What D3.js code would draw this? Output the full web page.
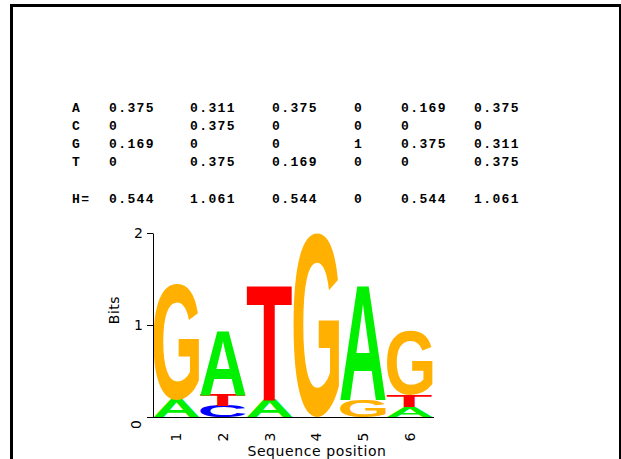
<!DOCTYPE html>
<html>
<head>
<meta charset="utf-8">
<script src="https://cdn.jsdelivr.net/npm/d3@7"></script>
<style>
  body { margin: 0; background: #fff; }
  svg { display: block; }
</style>
</head>
<body>
<svg id="chart" width="621" height="459"></svg>
<script>
// table values, one array per base
const bases = ["A", "C", "G", "T"];
const probA = [0.375, 0.311, 0.375, 0, 0.169, 0.375];
const probC = [0, 0.375, 0, 0, 0, 0];
const probG = [0.169, 0, 0, 1, 0.375, 0.311];
const probT = [0, 0.375, 0.169, 0, 0, 0.375];
const entropy = [0.544, 1.061, 0.544, 0, 0.544, 1.061];

// logo stacks, bottom to top: [letter, bits]
const positions = [1, 2, 3, 4, 5, 6];
const stacks = [
  [["A", 0.19], ["G", 1.26]],
  [["C", 0.12], ["T", 0.12], ["A", 0.71]],
  [["A", 0.19], ["T", 1.26]],
  [["G", 2.0]],
  [["G", 0.19], ["A", 1.26]],
  [["A", 0.11], ["T", 0.13], ["G", 0.70]]
];
const yTicks = [0, 1, 2];

const colors = { A: "#00f000", C: "#0000ff", G: "#ffb000", T: "#ff0000" };

const svg = d3.select("#chart");

// frame
svg.append("rect")
  .attr("x", 11.5).attr("y", 5.5)
  .attr("width", 609).attr("height", 520)
  .attr("fill", "none")
  .attr("stroke", "#000")
  .attr("stroke-width", 3);

// text table
const colX = [72, 109, 190, 272, 354, 401, 474];
const rows = [probA, probC, probG, probT];
const rowY = [112, 130, 148, 166];
const table = svg.append("g")
  .style("font-family", "'Liberation Mono', monospace")
  .style("font-weight", "bold")
  .style("font-size", "13px")
  .style("letter-spacing", "1.4px");

rows.forEach(function(r, i) {
  table.append("text").attr("x", colX[0]).attr("y", rowY[i]).text(bases[i]);
  r.forEach(function(v, j) {
    table.append("text").attr("x", colX[j + 1]).attr("y", rowY[i]).text(String(v));
  });
});
table.append("text").attr("x", colX[0]).attr("y", 203).text("H=");
entropy.forEach(function(v, j) {
  table.append("text").attr("x", colX[j + 1]).attr("y", 203).text(String(v));
});

// logo
let x = d3.scaleBand().domain(positions).range([153, 433]).padding(0);
let y = d3.scaleLinear().domain([0, 2]).range([417, 233]);

const ctx = document.createElement("canvas").getContext("2d");
const glyphFont = "bold 100px 'Liberation Sans'";
ctx.font = glyphFont;
const metrics = {};
bases.forEach(function(b) {
  let m = ctx.measureText(b);
  metrics[b] = {
    left: m.actualBoundingBoxLeft,
    right: m.actualBoundingBoxRight,
    asc: m.actualBoundingBoxAscent,
    desc: m.actualBoundingBoxDescent
  };
});

const logo = svg.append("g");
stacks.forEach(function(stack, i) {
  let base = 0;
  stack.forEach(function(d) {
    let letter = d[0], h = d[1];
    let x0 = x(positions[i]) + 0.5;
    let w = x.bandwidth() - 1;
    let yTop = y(base + h);
    let ph = y(base) - yTop;
    let m = metrics[letter];
    let sx = w / (m.left + m.right);
    let sy = ph / (m.asc + m.desc);
    logo.append("text")
      .attr("transform", "translate(" + x0 + "," + yTop + ") scale(" + sx + "," + sy + ") translate(" + m.left + "," + m.asc + ")")
      .style("font", glyphFont)
      .attr("fill", colors[letter])
      .text(letter);
    base += h;
  });
});

// axes
const axisFont = "'DejaVu Sans', sans-serif";
let yAxis = svg.append("g")
  .attr("transform", "translate(153,0)")
  .call(d3.axisLeft(y).tickValues(yTicks).tickSize(6).tickSizeOuter(0).tickFormat(d3.format("d")));
yAxis.selectAll("text")
  .style("font-family", axisFont)
  .style("font-size", "14px")
  .attr("fill", "#000")
  .attr("x", -10);
yAxis.selectAll(".tick")
  .filter(d => d === 0)
  .select("text")
  .attr("transform", "translate(-16,7) rotate(-90)")
  .attr("x", 0).attr("dy", "0.32em")
  .attr("text-anchor", "middle");

svg.append("line")
  .attr("x1", 153).attr("x2", 434)
  .attr("y1", y(0) + 0.5).attr("y2", y(0) + 0.5)
  .attr("stroke", "#000");

svg.append("g")
  .selectAll("text")
  .data(positions)
  .join("text")
  .attr("transform", d => "translate(" + (x(d) + x.bandwidth() / 2) + ",437) rotate(-90)")
  .attr("text-anchor", "middle")
  .attr("dy", "0.35em")
  .style("font-family", axisFont)
  .style("font-size", "14px")
  .text(d => d);

svg.append("text")
  .attr("transform", "translate(119,310) rotate(-90)")
  .attr("text-anchor", "middle")
  .style("font-family", axisFont)
  .style("font-size", "14px")
  .style("letter-spacing", "0.5px")
  .text("Bits");

svg.append("text")
  .attr("x", 317).attr("y", 456)
  .attr("text-anchor", "middle")
  .style("font-family", axisFont)
  .style("font-size", "14px")
  .style("letter-spacing", "0.6px")
  .text("Sequence position");
</script>
</body>
</html>
